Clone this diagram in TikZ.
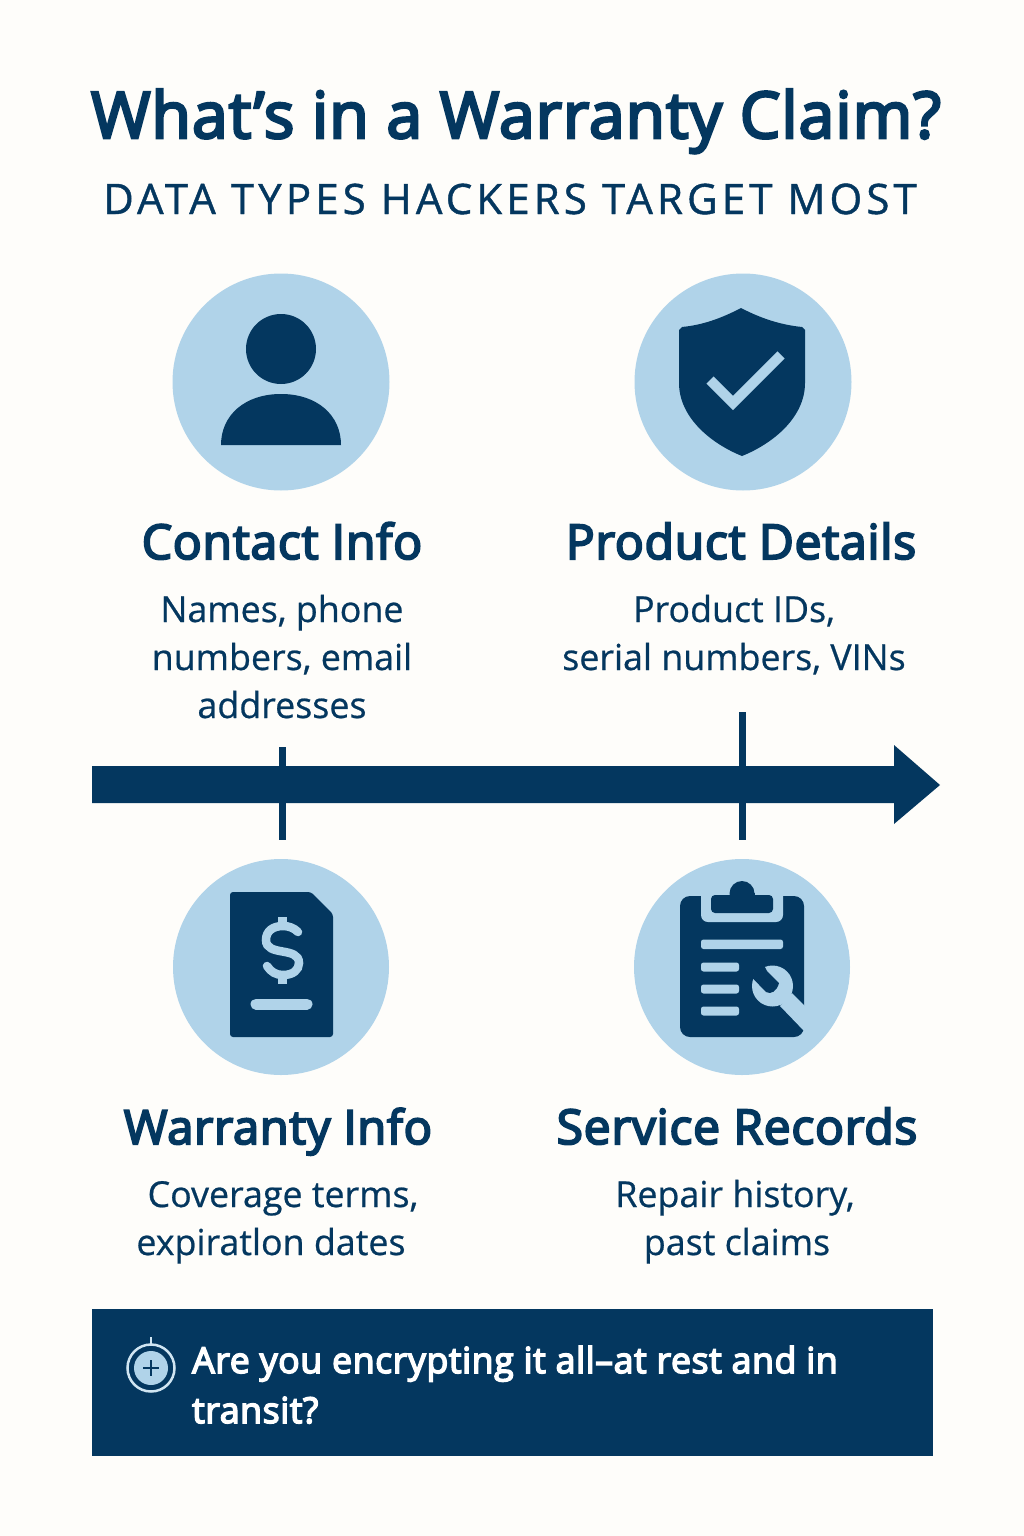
\documentclass[tikz,border=0pt]{standalone}
\usepackage{fontspec}
\setmainfont{Open Sans}
\newfontfamily\heavyfont[FakeBold=4.2,LetterSpace=1.6]{Open Sans}
\newfontfamily\midfont[FakeBold=0.6]{Open Sans}
\newfontfamily\subfont[LetterSpace=9.8,FakeBold=1]{Open Sans}
\definecolor{navy}{HTML}{04375F}
\definecolor{sky}{HTML}{B0D3E9}
\definecolor{paper}{HTML}{FEFDFA}
\tikzset{
  title/.style={anchor=base,text=navy,font=\fontsize{64.2}{64.2}\heavyfont,inner sep=0pt},
  subtitle/.style={anchor=base,text=navy,font=\fontsize{42}{42}\subfont,inner sep=0pt},
  head/.style={anchor=base,text=navy,font=\fontsize{48}{48}\heavyfont,inner sep=0pt},
  headnarrow/.style={anchor=base,text=navy,font=\fontsize{47}{47}\heavyfont,inner sep=0pt},
  body/.style={anchor=base,text=navy,font=\fontsize{35.8}{35.8}\midfont,inner sep=0pt},
  banner/.style={anchor=base west,text=white,font=\fontsize{35.7}{35.7}\heavyfont,inner sep=0pt},
  disc/.style={fill=sky,draw=none},
  ink/.style={fill=navy,draw=none},
  pale/.style={fill=sky,draw=none},
  paleline/.style={draw=sky,line width=8.5pt,line cap=round,fill=none},
}
\begin{document}
\begin{tikzpicture}[x=1pt,y=-1pt]
\useasboundingbox (0,0) rectangle (1024,1536);
\fill[paper] (0,0) rectangle (1024,1536);
% title
\node[title] (ttl) at (516,138) {What’s in a Warranty Claim?};
\node[subtitle] (sub) at (510,214) {DATA TYPES HACKERS TARGET MOST};
% discs
\fill[disc] (281,382) circle (108.5);
\fill[disc] (743,382) circle (108.5);
\fill[disc] (281,967) circle (108);
\fill[disc] (742,967) circle (108);
% person
\fill[ink] (281,349) circle (35);
\fill[ink] (221,445) .. controls (221,415) and (245,394) .. (281,394) .. controls (317,394) and (341,415) .. (341,445) -- cycle;
% shield
\fill[ink] (741,308) .. controls (720,319) and (702,325) .. (682,327) -- (679,330) -- (679,383)
  .. controls (679,418) and (712,444) .. (742,456)
  .. controls (772,444) and (805,418) .. (805,383) -- (805,330) -- (802,327)
  .. controls (782,325) and (762,319) .. (741,308) -- cycle;
\draw[draw=sky,line width=10pt,line join=miter,fill=none] (710,380) -- (733,403) -- (781,355);
% document
\fill[ink,rounded corners=3pt] (230,892) -- (311,892) -- (333,914) -- (333,1037) -- (230,1037) -- cycle;
\draw[paleline] (267,966) .. controls (271,972) and (276,975) .. (283,975)
  .. controls (293,975) and (299,970) .. (299,963)
  .. controls (299,946) and (266,957) .. (266,940)
  .. controls (266,931) and (273,926) .. (283,926)
  .. controls (289,926) and (294,928) .. (298,932);
\draw[draw=sky,line width=9pt] (282.5,917) -- (282.5,927) (282.5,974) -- (282.5,984);
\draw[draw=sky,line width=11pt,line cap=round] (256,1004) -- (307,1004);
% clipboard
\fill[ink,rounded corners=10pt] (680,896) rectangle (804,1037);
\fill[pale,rounded corners=7pt] (701,885) rectangle (783,922);
\fill[ink,rounded corners=4pt] (711,895) rectangle (773,913);
\fill[ink] (742,893.5) circle (12.5);
\fill[ink] (729.5,893) rectangle (754.5,900);
\fill[pale,rounded corners=2.5pt] (701,939.5) rectangle (783,949);
\fill[pale,rounded corners=2.5pt] (701,962.5) rectangle (739,971.5);
\fill[pale,rounded corners=2.5pt] (701,984.5) rectangle (739,993.5);
\fill[pale,rounded corners=2.5pt] (701,1006.5) rectangle (739,1015.5);
% wrench
\fill[pale] (772.5,986) circle (20.5);
\fill[pale] (792,993) -- (805,1006) -- (805,1032) -- (780,1006) -- cycle;
\fill[ink] (745,970) -- (752.5,978) -- (766,992) .. controls (771,995) and (777,991) .. (779,983) -- (767,971) -- (760,958) -- cycle;
% timeline arrow
\fill[ink] (92,766) -- (894,766) -- (894,745) -- (940,785) -- (894,824) -- (894,803) -- (92,803) -- cycle;
\fill[ink] (278.5,747) rectangle (285.5,840);
\fill[ink] (738.5,712) rectangle (745.5,840);
% upper text
\node[head] (h1) at (282,559) {Contact Info};
\node[body] (b1a) at (282,622) {Names, phone};
\node[body] (b1b) at (282,670) {numbers, email};
\node[body] (b1c) at (282,718) {addresses};
\node[head] (h2) at (741,559) {Product Details};
\node[body] (b2a) at (734,622) {Product IDs,};
\node[body] (b2b) at (734,670) {serial numbers, VINs};
% lower text
\node[headnarrow] (h3) at (278,1144) {Warranty Info};
\node[head] (h4) at (737,1144) {Service Records};
\node[body] (b3a) at (283,1207) {Coverage terms,};
\node[body] (b3b) at (271,1255) {expiratlon dates};
\node[body] (b4a) at (735,1207) {Repair history,};
\node[body] (b4b) at (737,1255) {past claims};
% banner
\fill[ink] (92,1309) rectangle (933,1456);
\draw[draw=sky!60!white,line width=2.5pt] (151,1368) circle (23.5);
\fill[pale] (151,1368) circle (17);
\draw[draw=sky!60!white,line width=2.5pt] (151,1337) -- (151,1345);
\draw[draw=navy,line width=1.8pt] (143,1368) -- (159,1368) (151,1360) -- (151,1376);
\node[banner] (q1) at (192,1373) {Are you encrypting it all–at rest and in};
\node[banner] (q2) at (192,1423) {transit?};
\end{tikzpicture}
\end{document}
